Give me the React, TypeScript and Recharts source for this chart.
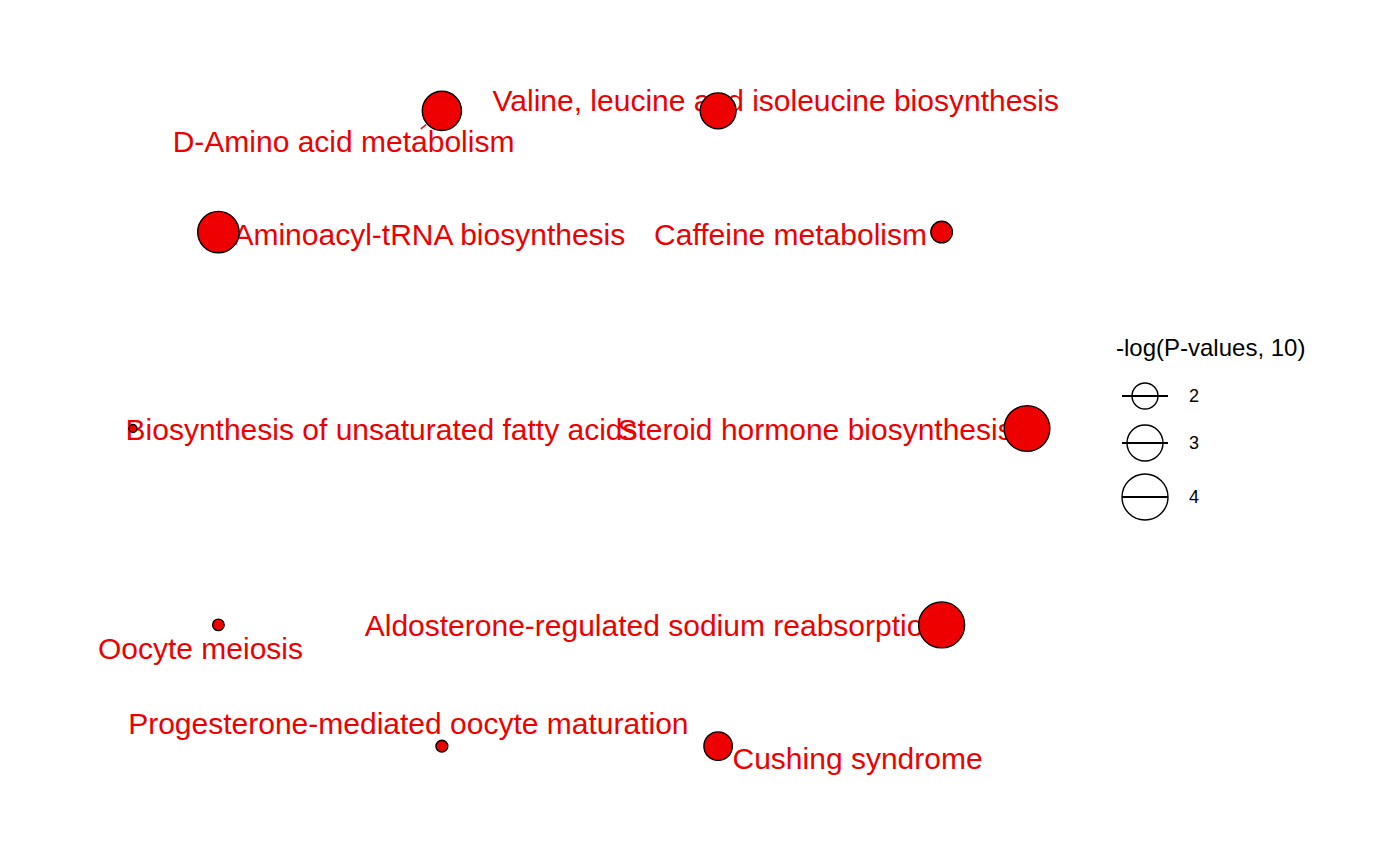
import { ScatterChart, Scatter, XAxis, YAxis, ZAxis, ReferenceLine } from 'recharts'

// pathways, in circle-layout order
const pathways = [
  'Steroid hormone biosynthesis',
  'Caffeine metabolism',
  'Valine, leucine and isoleucine biosynthesis',
  'D-Amino acid metabolism',
  'Aminoacyl-tRNA biosynthesis',
  'Biosynthesis of unsaturated fatty acids',
  'Oocyte meiosis',
  'Progesterone-mediated oocyte maturation',
  'Cushing syndrome',
  'Aldosterone-regulated sodium reabsorption',
]
const layoutX = [1, 0.809, 0.309, -0.309, -0.809, -1, -0.809, -0.309, 0.309, 0.809]
const layoutY = [0, 0.588, 0.951, 0.951, 0.588, 0, -0.588, -0.951, -0.951, -0.588]
const negLogP = [4.07, 1.6, 3.07, 3.4, 3.63, 0.2, 0.57, 0.6, 2.3, 4.1]

// repelled label positions
const labelX = [0.526, 0.471, 0.438, -0.529, -0.337, -0.444, -0.849, -0.384, 0.621, 0.162]
const labelY = [-0.004, 0.582, 0.981, 0.858, 0.582, -0.004, -0.66, -0.882, -0.987, -0.591]

// connector for the one label that got pushed away
const segStart = { x: -0.356, y: 0.897 }
const segEnd = { x: -0.344, y: 0.91 }

const legendValues = [2, 3, 4]

const RED = '#ee0000'
const R_MIN = 3
const R_MAX = 23
const Z_MAX = 4

const points = pathways.map((name, i) => ({ name, x: layoutX[i], y: layoutY[i], z: negLogP[i] }))
const labels = pathways.map((name, i) => ({ name, x: labelX[i], y: labelY[i] }))

const radiusOf = (v: number) => R_MIN + ((R_MAX - R_MIN) * v) / Z_MAX

function Bubble(props: any) {
  const { cx, cy, size, payload } = props
  const r = typeof size === 'number' ? size : radiusOf(payload.z)
  return <circle cx={cx} cy={cy} r={r} fill={RED} stroke="#000" strokeWidth={1.4} />
}

function PathLabel(props: any) {
  const { cx, cy, payload } = props
  return (
    <text x={cx} y={cy} textAnchor="middle" dominantBaseline="central" fontSize={30} fill={RED}>
      {payload.name}
    </text>
  )
}

function SizeLegend() {
  const rows = [68, 115, 169]
  return (
    <svg width={230} height={200} style={{ position: 'absolute', left: 1100, top: 320 }}>
      <text x={8} y={19} fontSize={24} dominantBaseline="central" fill="#000">
        -log(P-values, 10)
      </text>
      {legendValues.map((v, i) => (
        <g key={v}>
          <circle cx={37} cy={rows[i]} r={radiusOf(v)} fill="none" stroke="#000" strokeWidth={1.4} />
          <line x1={14} x2={60} y1={rows[i]} y2={rows[i]} stroke="#000" strokeWidth={2.2} />
          <text x={81} y={rows[i]} fontSize={18} dominantBaseline="central" fill="#000">
            {v}
          </text>
        </g>
      ))}
    </svg>
  )
}

export default function App() {
  return (
    <div
      style={{
        position: 'relative',
        width: 1384,
        height: 849,
        fontFamily: "'Liberation Sans', Arial, sans-serif",
        background: '#fff',
      }}
    >
      <ScatterChart
        width={1384}
        height={849}
        margin={{ top: 19.7, left: 35.6, right: 275.6, bottom: 27.7 }}
      >
        <XAxis type="number" dataKey="x" domain={[-1.2, 1.2]} hide allowDataOverflow />
        <YAxis type="number" dataKey="y" domain={[-1.2, 1.2]} hide allowDataOverflow />
        <ZAxis type="number" dataKey="z" domain={[0, Z_MAX]} range={[R_MIN, R_MAX]} />
        <ReferenceLine
          segment={[segStart, segEnd]}
          stroke={RED}
          strokeWidth={1.4}
          ifOverflow="visible"
        />
        <Scatter data={labels} shape={<PathLabel />} isAnimationActive={false} />
        <Scatter data={points} shape={<Bubble />} isAnimationActive={false} />
      </ScatterChart>
      <SizeLegend />
    </div>
  )
}
